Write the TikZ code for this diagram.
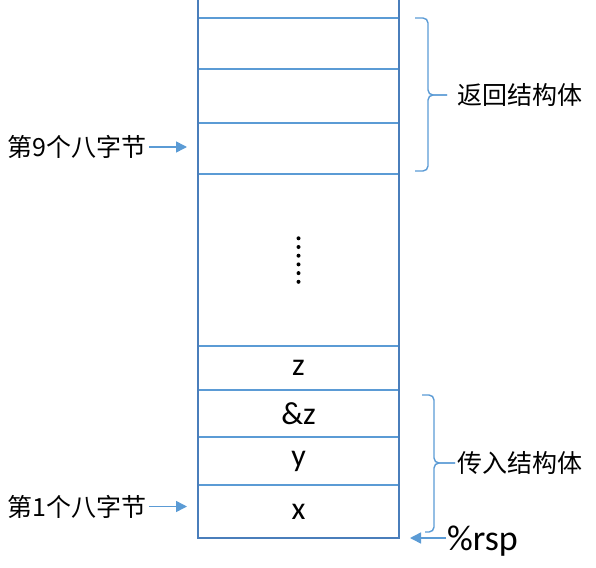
\documentclass[tikz,border=0pt]{standalone}
\usepackage{fontspec}
\setmainfont{Carlito}
\newfontfamily\cjk{Noto Sans CJK SC}
\usetikzlibrary{arrows.meta,positioning}
\definecolor{cellblue}{HTML}{5B9BD5}
\definecolor{frameblue}{HTML}{4A7EBB}

\begin{document}
\begin{tikzpicture}[
    x=1pt, y=-1pt,
    node distance=0pt,
    cell/.style={minimum width=201pt, inner sep=0pt, outer sep=0pt,
      font=\fontsize{32}{34}\selectfont},
    sep/.style={cellblue, line width=1.4pt},
    frame/.style={frameblue, line width=1.7pt},
    side/.style={font=\cjk\fontsize{25}{27}\selectfont, inner sep=2pt},
    arrow/.style={-{Triangle[length=11pt,width=11pt]}, cellblue, line width=1.5pt},
    brace/.style={cellblue, line width=1.4pt, rounded corners=5pt}
  ]
  \useasboundingbox (0,0) rectangle (596,567);

  % the stack, from the top down
  \node[cell, minimum height=18pt, anchor=north] (top) at (298.5,0) {};
  \node[cell, minimum height=51pt, below=of top] (r11) {};
  \node[cell, minimum height=54pt, below=of r11] (r10) {};
  \node[cell, minimum height=51pt, below=of r10] (r9) {};
  \node[cell, minimum height=172pt, below=of r9] (dots) {};
  \node[cell, minimum height=44pt, below=of dots] (cellz) {z};
  \node[cell, minimum height=47pt, below=of cellz] (cellaz) {\&z};
  \node[cell, minimum height=48pt, below=of cellaz] (celly) {y};
  \node[cell, minimum height=53pt, below=of celly] (cellx) {x};

  \foreach \c in {top,r11,r10,r9,dots,cellz,cellaz,celly}
    \draw[sep] (\c.south west) -- (\c.south east);
  \draw[frame] (top.north west) -- (cellx.south west)
    -- (cellx.south east) -- (top.north east);

  \foreach \k in {0,...,5}
    \fill ([yshift=21.7pt-\k*8.7pt]dots.center) circle (2pt);

  % left labels
  \node[side, left=49pt of r9, yshift=1.5pt] (n9) {第9个八字节};
  \node[side, left=49pt of cellx, yshift=5pt] (n1) {第1个八字节};
  \draw[arrow, shorten >=11pt] (n9.east) -- (n9.east -| r9.west);
  \draw[arrow, shorten >=11pt] (n1.east) -- (n1.east -| cellx.west);

  % right labels
  \node[side, anchor=west] (ret) at (455,95) {返回结构体};
  \node[side, anchor=west] (arg) at (455,463) {传入结构体};
  \node[font=\fontsize{36}{38}\selectfont, anchor=west, inner sep=1pt] (rsp)
    at (446,541) {\%rsp};

  \draw[brace] (415,18) -| (428,95) -- ([xshift=-8pt]ret.west);
  \draw[brace] (415,171) -| (428,95) -- ([xshift=-8pt]ret.west);
  \draw[brace] (422,395) -| (434,463) -- (arg.west);
  \draw[brace] (425,532) -| (434,463) -- (arg.west);

  \draw[arrow] (rsp.west |- cellx.south) -- ([xshift=11pt]cellx.south east);
\end{tikzpicture}
\end{document}
